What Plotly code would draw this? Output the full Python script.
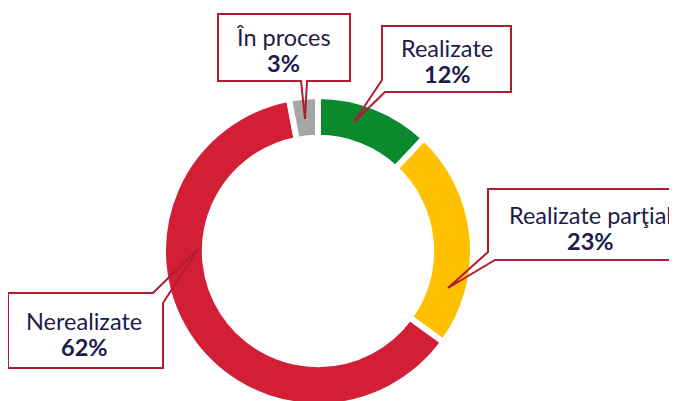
import plotly.graph_objects as go

# ---- data ----
labels = ["Realizate", "Realizate parţial", "Nerealizate", "În proces"]
values = [12, 23, 62, 3]
pct_text = ["12%", "23%", "62%", "3%"]
colors = ["#0a8a2c", "#ffc000", "#d31f36", "#a6a6a6"]

OFF = 8            # page body margin
W, H = 669, 400    # figure size (page area minus body margin)
TEXT = "#1d1b4c"
BORDER = "#b31b30"
FONT = "Lato, 'Open Sans', sans-serif"

def px(x):
    return (x - OFF) / W

def py(y):
    return 1 - (y - OFF) / H

# ring centre / radius in page pixels
cx, cy, R = 318, 251, 155

fig = go.Figure(go.Pie(
    labels=labels,
    values=values,
    sort=False,
    direction="clockwise",
    rotation=0,
    hole=0.73,
    textinfo="none",
    hoverinfo="label+percent",
    marker=dict(colors=colors, line=dict(color="white", width=6)),
    domain=dict(x=[px(cx - R), px(cx + R)], y=[py(cy + R), py(cy - R)]),
    showlegend=False,
))

callouts = [
    (3, [(218, 14), (350, 14), (350, 81), (307, 81), (305, 119), (301, 81), (218, 81)], 283, 37, 63),
    (0, [(382, 26), (511, 26), (511, 92), (385, 92), (354, 122), (382, 80)], 447, 48, 74),
    (1, [(488, 189), (690, 189), (690, 260), (495, 260), (448, 288), (488, 252)], 590, 215, 241),
    (2, [(8, 293), (153, 293), (198, 249), (163, 303), (163, 368), (8, 368)], 84, 321, 347),
]

shapes = []
annotations = []
for idx, pts, tx, ny, pcy in callouts:
    path = "M " + " L ".join(f"{px(x):.5f},{py(y):.5f}" for x, y in pts) + " Z"
    shapes.append(dict(type="path", xref="paper", yref="paper", path=path,
                       line=dict(color=BORDER, width=2), fillcolor="rgba(0,0,0,0)",
                       layer="above"))
    annotations.append(dict(x=px(tx), y=py(ny), xref="paper", yref="paper",
                            text=labels[idx], showarrow=False,
                            xanchor="center", yanchor="middle",
                            font=dict(family=FONT, size=23.5, color=TEXT)))
    annotations.append(dict(x=px(tx), y=py(pcy), xref="paper", yref="paper",
                            text=f"<b>{pct_text[idx]}</b>", showarrow=False,
                            xanchor="center", yanchor="middle",
                            font=dict(family=FONT, size=23.5, color=TEXT)))

fig.update_layout(
    width=W, height=H,
    margin=dict(l=0, r=0, t=0, b=0),
    paper_bgcolor="white",
    plot_bgcolor="white",
    shapes=shapes,
    annotations=annotations,
)

fig.write_html("out.html")
